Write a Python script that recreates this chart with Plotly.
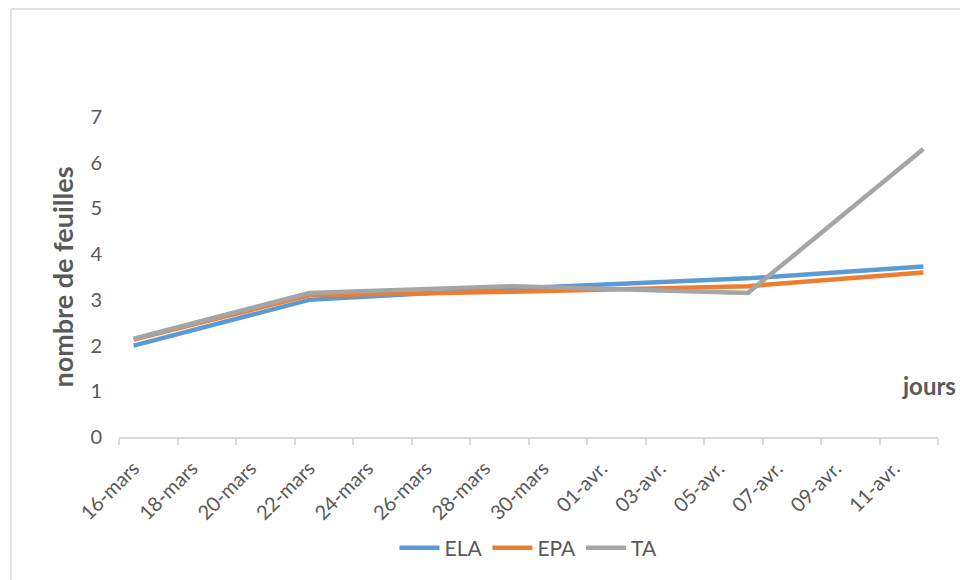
import plotly.graph_objects as go

# Measurement dates and leaf counts per treatment
dates = ["2021-03-16", "2021-03-22", "2021-03-29", "2021-04-06", "2021-04-12"]
ela = [2.0, 3.0, 3.25, 3.47, 3.73]
epa = [2.13, 3.1, 3.18, 3.3, 3.6]
ta = [2.15, 3.15, 3.3, 3.15, 6.3]

series_names = ["ELA", "EPA", "TA"]
series_colors = ["#5B9BD5", "#ED7D31", "#A5A5A5"]

# Axis labels (one every two days) and day boundaries for tick marks
label_days = ["2021-03-16", "2021-03-18", "2021-03-20", "2021-03-22", "2021-03-24",
              "2021-03-26", "2021-03-28", "2021-03-30", "2021-04-01", "2021-04-03",
              "2021-04-05", "2021-04-07", "2021-04-09", "2021-04-11"]
label_text = ["16-mars", "18-mars", "20-mars", "22-mars", "24-mars", "26-mars",
              "28-mars", "30-mars", "01-avr.", "03-avr.", "05-avr.", "07-avr.",
              "09-avr.", "11-avr."]
boundary_days = label_days + ["2021-04-13"]
y_ticks = [0, 1, 2, 3, 4, 5, 6, 7]

FONT = "Lato"
TXT = "#595959"
AXIS = "#D9D9D9"

x_mid = [d + " 12:00" for d in dates]

fig = go.Figure()
for name, vals, col in zip(series_names, [ela, epa, ta], series_colors):
    fig.add_trace(go.Scatter(
        x=x_mid, y=vals, mode="lines", name=name,
        line=dict(color=col, width=4.5),
        hoverinfo="x+y+name",
    ))

W, H = 960, 580
ml, mr, mt, mb = 119, 22, 117, 143
pw, ph = W - ml - mr, H - mt - mb


def px_x(p):
    return (p - ml) / pw


def px_y(p):
    return (H - mb - p) / ph


fig.update_layout(
    width=W, height=H,
    margin=dict(l=ml, r=mr, t=mt, b=mb),
    paper_bgcolor="white", plot_bgcolor="white",
    font=dict(family=FONT, color=TXT, size=20),
    xaxis=dict(
        type="date",
        range=["2021-03-16 00:00", "2021-04-13 00:00"],
        tickmode="array",
        tickvals=[d + " 12:00" for d in label_days],
        ticktext=label_text,
        tickangle=-45,
        ticks="",
        ticklabelstandoff=10,
        showgrid=False, zeroline=False,
        showline=True, linecolor=AXIS, linewidth=1.5,
        tickfont=dict(size=20, color=TXT, family=FONT),
        minor=dict(
            tickmode="array",
            tickvals=boundary_days,
            ticks="outside", ticklen=6, tickcolor=AXIS, tickwidth=1.5,
            showgrid=False,
        ),
        fixedrange=True,
    ),
    yaxis=dict(
        range=[0, 7],
        tickmode="array",
        tickvals=y_ticks,
        ticks="",
        ticklabelstandoff=16,
        showgrid=False, zeroline=False, showline=False,
        tickfont=dict(size=20, color=TXT, family=FONT),
        title=dict(text="<b>nombre de feuilles</b>",
                   font=dict(size=27, color=TXT, family=FONT), standoff=8),
        fixedrange=True,
    ),
    legend=dict(
        orientation="h",
        x=0.5, xanchor="center",
        y=px_y(548), yanchor="middle",
        font=dict(size=21, color=TXT, family=FONT),
        itemwidth=40,
        bgcolor="rgba(0,0,0,0)",
    ),
    annotations=[dict(
        text="<b>jours</b>", x=px_x(900), y=px_y(385),
        xref="paper", yref="paper", xanchor="left", yanchor="middle",
        showarrow=False, font=dict(size=24, color=TXT, family=FONT),
    )],
    shapes=[
        dict(type="line", xref="paper", yref="paper",
             x0=px_x(11), x1=px_x(961), y0=px_y(9), y1=px_y(9),
             line=dict(color=AXIS, width=1.5)),
        dict(type="line", xref="paper", yref="paper",
             x0=px_x(11), x1=px_x(11), y0=px_y(9), y1=px_y(581),
             line=dict(color=AXIS, width=1.5)),
    ],
)

fig.write_html("out.html")
